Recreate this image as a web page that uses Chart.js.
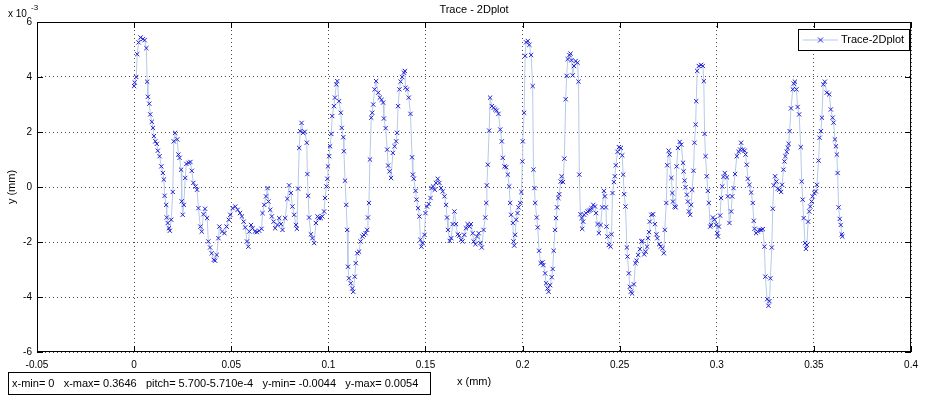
<!DOCTYPE html>
<html>
<head>
<meta charset="utf-8">
<script src="https://cdn.jsdelivr.net/npm/chart.js@4.4.1/dist/chart.umd.min.js"></script>
<style>
  html, body { margin:0; padding:0; background:#fff; }
  #wrap { position:relative; width:925px; height:398px; }
</style>
</head>
<body>
<div id="wrap"><canvas id="trace" width="925" height="398"></canvas></div>
<script>
// DATA (x in mm, y in units of 1e-3 mm)
const xMm = [
  0,0.0003,0.0011,0.0016,0.0023,0.0033,0.0045,0.0054,0.0063,0.0067,
  0.0071,0.0078,0.0083,0.0091,0.0097,0.0102,0.0109,0.0117,0.0122,0.0131,
  0.0140,0.0148,0.0153,0.0157,0.0165,0.0168,0.0173,0.0179,0.0184,0.0191,
  0.0199,0.0204,0.0211,0.0222,0.0228,0.0234,0.0242,0.0245,0.0250,0.0256,
  0.0263,0.0269,0.0280,0.0290,0.0297,0.0305,0.0316,0.0324,0.0331,0.0341,
  0.0348,0.0357,0.0365,0.0376,0.0382,0.0391,0.0399,0.0410,0.0417,0.0425,
  0.0434,0.0439,0.0453,0.0465,0.0476,0.0487,0.0495,0.0507,0.0521,0.0533,
  0.0545,0.0555,0.0564,0.0572,0.0581,0.0588,0.0593,0.0602,0.0610,0.0622,
  0.0632,0.0644,0.0656,0.0661,0.0670,0.0679,0.0687,0.0692,0.0701,0.0709,
  0.0718,0.0726,0.0738,0.0747,0.0756,0.0764,0.0778,0.0789,0.0798,0.0807,
  0.0815,0.0824,0.0833,0.0838,0.0844,0.0850,0.0855,0.0862,0.0870,0.0879,
  0.0889,0.0892,0.0896,0.0901,0.0910,0.0918,0.0927,0.0936,0.0944,0.0952,
  0.0961,0.0969,0.0978,0.0983,0.0990,0.0995,0.0998,0.1004,0.1009,0.1015,
  0.1020,0.1029,0.1034,0.1041,0.1046,0.1055,0.1064,0.1069,0.1077,0.1080,
  0.1086,0.1092,0.1097,0.1101,0.1106,0.1115,0.1123,0.1128,0.1136,0.1141,
  0.1149,0.1158,0.1166,0.1175,0.1183,0.1192,0.1200,0.1204,0.1209,0.1214,
  0.1221,0.1226,0.1231,0.1238,0.1246,0.1257,0.1265,0.1274,0.1282,0.1286,
  0.1295,0.1303,0.1308,0.1315,0.1323,0.1332,0.1341,0.1349,0.1354,0.1359,
  0.1366,0.1372,0.1380,0.1389,0.1394,0.1397,0.1406,0.1414,0.1423,0.1431,
  0.1435,0.1440,0.1449,0.1454,0.1462,0.1469,0.1474,0.1479,0.1486,0.1495,
  0.1500,0.1508,0.1517,0.1526,0.1531,0.1539,0.1548,0.1554,0.1563,0.1572,
  0.1580,0.1589,0.1598,0.1606,0.1611,0.1616,0.1625,0.1633,0.1640,0.1649,
  0.1657,0.1666,0.1674,0.1683,0.1691,0.1700,0.1708,0.1717,0.1726,0.1734,
  0.1743,0.1748,0.1757,0.1765,0.1774,0.1782,0.1790,0.1799,0.1808,0.1813,
  0.1816,0.1821,0.1828,0.1833,0.1842,0.1851,0.1859,0.1867,0.1876,0.1885,
  0.1893,0.1898,0.1907,0.1916,0.1924,0.1931,0.1936,0.1941,0.1950,0.1953,
  0.1957,0.1962,0.1967,0.1974,0.1979,0.1988,0.1994,0.1999,0.2001,0.2008,
  0.2013,0.2018,0.2027,0.2035,0.2044,0.2052,0.2056,0.2061,0.2065,0.2073,
  0.2078,0.2085,0.2093,0.2102,0.2107,0.2116,0.2121,0.2128,0.2134,0.2142,
  0.2150,0.2155,0.2160,0.2167,0.2172,0.2178,0.2184,0.2189,0.2196,0.2201,
  0.2208,0.2215,0.2222,0.2227,0.2232,0.2241,0.2247,0.2252,0.2258,0.2265,
  0.2273,0.2283,0.2288,0.2292,0.2298,0.2304,0.2307,0.2312,0.2317,0.2326,
  0.2335,0.2343,0.2350,0.2355,0.2364,0.2373,0.2378,0.2386,0.2393,0.2402,
  0.2410,0.2419,0.2424,0.2429,0.2432,0.2437,0.2444,0.2453,0.2458,0.2463,
  0.2470,0.2475,0.2480,0.2489,0.2496,0.2506,0.2513,0.2518,0.2523,0.2530,
  0.2537,0.2540,0.2547,0.2552,0.2557,0.2564,0.2573,0.2581,0.2587,0.2595,
  0.2604,0.2612,0.2617,0.2626,0.2634,0.2641,0.2646,0.2651,0.2655,0.2663,
  0.2672,0.2681,0.2689,0.2694,0.2703,0.2711,0.2720,0.2727,0.2732,0.2740,
  0.2745,0.2752,0.2757,0.2766,0.2771,0.2774,0.2783,0.2788,0.2793,0.2800,
  0.2809,0.2817,0.2826,0.2829,0.2834,0.2839,0.2846,0.2851,0.2856,0.2863,
  0.2868,0.2873,0.2880,0.2885,0.2891,0.2894,0.2899,0.2907,0.2919,0.2928,
  0.2933,0.2937,0.2942,0.2948,0.2954,0.2959,0.2966,0.2971,0.2980,0.2988,
  0.2997,0.3002,0.3006,0.3011,0.3017,0.3022,0.3028,0.3034,0.3041,0.3052,
  0.3057,0.3065,0.3074,0.3079,0.3086,0.3094,0.3103,0.3112,0.3120,0.3125,
  0.3134,0.3143,0.3148,0.3154,0.3160,0.3168,0.3177,0.3185,0.3190,0.3194,
  0.3202,0.3211,0.3219,0.3228,0.3237,0.3245,0.3250,0.3259,0.3266,0.3271,
  0.3276,0.3283,0.3288,0.3293,0.3300,0.3307,0.3314,0.3322,0.3331,0.3336,
  0.3343,0.3348,0.3353,0.3360,0.3365,0.3370,0.3375,0.3382,0.3391,0.3396,
  0.3402,0.3410,0.3416,0.3424,0.3432,0.3437,0.3442,0.3447,0.3454,0.3459,
  0.3464,0.3470,0.3476,0.3481,0.3488,0.3493,0.3502,0.3510,0.3515,0.3524,
  0.3529,0.3536,0.3541,0.3548,0.3556,0.3566,0.3579,0.3587,0.3596,0.3601,
  0.3608,0.3613,0.3618,0.3622,0.3627,0.3633,0.3638,0.3643,0.3646
];
const yE3 = [
  3.67,3.80,4.00,4.83,5.26,5.44,5.38,5.34,5.05,3.83,
  3.28,3.03,2.64,2.37,2.15,1.85,1.66,1.57,1.32,1.12,
  0.75,0.51,0.27,-0.32,-0.65,-1.11,-1.31,-1.50,-1.59,-1.19,
  -0.18,1.66,1.97,1.73,1.18,1.06,0.63,-0.52,-1.01,-0.65,
  0.33,0.84,0.88,0.91,0.59,0.15,0.02,-0.10,-0.77,-1.44,
  -1.62,-0.99,-0.79,-1.13,-1.98,-2.20,-2.41,-2.65,-2.68,-2.47,
  -1.86,-1.44,-1.62,-1.68,-1.44,-1.19,-1.01,-0.77,-0.71,-0.83,
  -0.95,-1.07,-1.26,-1.47,-1.98,-2.17,-1.62,-1.38,-1.50,-1.62,
  -1.64,-1.59,-1.52,-0.95,-0.65,-0.34,-0.04,-0.53,-0.83,-1.07,
  -1.26,-1.50,-1.38,-1.13,-1.35,-1.56,-1.13,-0.43,0.06,-0.22,
  -0.71,-1.01,-1.38,-1.52,-0.06,1.42,2.03,2.33,1.97,2.01,
  1.61,0.47,-0.32,-1.11,-1.72,-1.86,-2.04,-1.31,-1.07,-1.13,
  -1.13,-1.07,-0.89,-0.40,0.02,0.30,0.75,1.12,1.48,1.93,
  2.58,2.94,3.25,3.73,3.85,3.12,2.70,2.15,1.81,1.30,
  0.23,-0.65,-1.56,-2.90,-3.32,-3.50,-3.69,-3.81,-3.26,-2.77,
  -2.41,-2.35,-1.98,-1.80,-1.74,-1.68,-1.56,-1.11,-0.58,1.00,
  2.52,2.70,3.00,3.55,3.85,3.43,3.25,3.17,3.07,2.49,
  2.14,1.36,0.78,0.57,0.33,1.24,1.48,1.66,1.97,2.94,
  3.55,3.83,4.00,4.16,4.22,3.61,3.55,3.25,2.66,1.08,
  0.45,0.30,-0.14,-0.46,-0.77,-1.07,-1.92,-2.17,-2.04,-1.74,
  -0.95,-0.71,-0.62,-0.40,-0.04,0.02,-0.10,0.15,0.30,0.15,
  -0.04,-0.16,-0.34,-0.65,-1.11,-1.56,-1.96,-1.86,-1.35,-0.89,
  -1.35,-1.72,-1.77,-1.92,-1.98,-1.74,-1.50,-1.35,-1.44,-1.35,
  -1.68,-1.98,-2.08,-1.80,-1.68,-2.04,-2.20,-1.56,-1.11,-0.58,
  0.06,0.81,2.05,3.25,2.94,2.88,2.82,2.78,2.66,2.09,
  1.66,1.06,0.75,0.72,0.45,0.02,-0.58,-1.01,-1.31,-1.98,
  -2.13,-1.74,-1.19,-0.95,-0.74,-0.58,-0.18,0.93,1.66,2.70,
  4.77,5.26,5.31,5.17,4.80,3.67,0.63,-0.04,-0.58,-1.11,
  -1.47,-2.32,-2.77,-2.74,-2.84,-3.14,-3.50,-3.69,-3.81,-3.57,
  -3.28,-2.98,-2.32,-1.56,-1.13,-0.74,-0.40,-0.26,0.20,0.39,
  0.18,1.03,3.19,4.04,4.65,4.80,4.85,4.61,4.06,4.40,
  4.58,4.52,3.83,0.45,-0.99,-1.13,-1.52,-1.26,-1.01,-0.95,
  -0.89,-0.86,-0.83,-0.77,-0.65,-0.71,-0.95,-1.35,-1.68,-1.38,
  -0.74,-0.14,-0.34,-0.74,-1.44,-1.80,-2.11,-2.17,-1.72,-0.22,
  0.18,0.39,0.79,1.28,1.45,1.42,1.15,0.45,-0.26,-0.71,
  -2.20,-2.53,-3.14,-3.63,-3.81,-3.87,-3.54,-2.77,-2.68,-2.47,
  -2.26,-1.98,-1.96,-2.45,-2.35,-2.17,-1.86,-1.64,-1.26,-1.01,
  -0.99,-1.35,-1.72,-1.86,-2.08,-2.17,-2.23,-2.41,-1.56,-0.58,
  0.79,1.32,1.18,0.33,-0.22,-0.53,-0.71,-0.74,0.75,1.42,
  1.64,1.54,0.88,0.57,0.23,-0.01,-0.28,-0.53,-0.89,-1.01,
  -0.65,-0.10,0.59,1.61,2.27,3.12,4.22,4.40,4.44,4.40,
  3.85,1.93,1.12,0.39,-0.14,-0.58,-1.44,-1.38,-1.11,-1.19,
  -1.38,-1.68,-1.80,-1.44,-1.04,-0.40,0.02,0.37,0.51,0.35,
  -0.34,-1.31,-0.89,-0.34,-0.04,0.47,1.12,1.28,1.36,1.61,
  1.36,1.32,1.18,0.81,0.30,0.08,-0.20,-0.58,-1.23,-1.52,
  -1.68,-1.62,-1.56,-1.56,-1.53,-2.17,-3.26,-4.08,-4.32,-4.15,
  -3.32,-2.20,-0.79,0.06,0.39,0.20,-0.06,-0.10,-0.18,0.08,
  0.63,0.93,1.12,1.28,1.42,1.57,2.03,2.86,3.55,3.76,
  3.83,3.55,2.91,2.64,1.45,0.20,-0.46,-1.13,-2.04,-2.25,
  -2.11,-1.26,-0.89,-0.71,-0.53,-0.34,-0.22,-0.16,0.08,0.96,
  1.79,2.03,2.52,3.73,3.83,3.43,3.37,2.82,2.52,2.34,
  1.73,1.48,1.18,0.51,-0.74,-1.16,-1.38,-1.72,-1.80
];
const xTicks = [-0.05, 0, 0.05, 0.1, 0.15, 0.2, 0.25, 0.3, 0.35, 0.4];
const xTickLabels = ['-0.05','0','0.05','0.1','0.15','0.2','0.25','0.3','0.35','0.4'];
const yTicks = [-6, -4, -2, 0, 2, 4, 6];
const yTickLabels = ['-6','-4','-2','0','2','4','6'];
const seriesName = 'Trace-2Dplot';
const statsText = 'x-min= 0   x-max= 0.3646   pitch= 5.700-5.710e-4   y-min= -0.0044   y-max= 0.0054';

if (xMm.length !== yE3.length) throw new Error('length mismatch ' + xMm.length + ' ' + yE3.length);
const points = xMm.map((x, k) => ({ x: x, y: yE3[k] }));

const FONT = '"Liberation Sans", Arial, sans-serif';
const LINE_COL = '#b7c9e8';
const MARK_COL = '#1f1fd6';

// box, inside ticks, labels, legend and stats box (MATLAB look)
const matlabFrame = {
  id: 'matlabFrame',
  afterDraw(chart) {
    const { ctx, chartArea: a, scales: { x, y } } = chart;
    ctx.save();
    ctx.strokeStyle = '#000';
    ctx.lineWidth = 1;
    ctx.strokeRect(a.left + 0.5, a.top + 0.5, a.right - a.left - 1, a.bottom - a.top - 1);
    ctx.beginPath();
    xTicks.forEach(v => {
      const px = Math.round(x.getPixelForValue(v)) + 0.5;
      ctx.moveTo(px, a.bottom); ctx.lineTo(px, a.bottom - 6);
      ctx.moveTo(px, a.top); ctx.lineTo(px, a.top + 6);
    });
    yTicks.forEach(v => {
      const py = Math.round(y.getPixelForValue(v)) + 0.5;
      ctx.moveTo(a.left, py); ctx.lineTo(a.left + 6, py);
      ctx.moveTo(a.right, py); ctx.lineTo(a.right - 6, py);
    });
    ctx.stroke();

    ctx.fillStyle = '#000';
    ctx.font = '11px ' + FONT;
    ctx.textAlign = 'center';
    ctx.textBaseline = 'middle';
    const cx = (a.left + a.right) / 2;
    ctx.fillText('Trace - 2Dplot', cx, 10);
    ctx.fillText('x (mm)', cx, 382);

    // exponent
    ctx.textAlign = 'left';
    ctx.font = '10px ' + FONT;
    ctx.fillText('x 10', 8, 14);
    ctx.font = '8px ' + FONT;
    ctx.fillText('-3', 31, 8);

    // y label
    ctx.save();
    ctx.translate(12, (a.top + a.bottom) / 2);
    ctx.rotate(-Math.PI / 2);
    ctx.textAlign = 'center';
    ctx.font = '11px ' + FONT;
    ctx.fillText('y (mm)', 0, 0);
    ctx.restore();

    // legend
    const lx = 798, ly = 29, lw = 111, lh = 21;
    ctx.fillStyle = '#fff';
    ctx.fillRect(lx, ly, lw, lh);
    ctx.strokeStyle = '#000';
    ctx.strokeRect(lx + 0.5, ly + 0.5, lw, lh);
    const my = ly + lh / 2 + 0.5;
    ctx.strokeStyle = LINE_COL;
    ctx.beginPath(); ctx.moveTo(lx + 5, my); ctx.lineTo(lx + 40, my); ctx.stroke();
    ctx.strokeStyle = MARK_COL;
    ctx.beginPath();
    ctx.moveTo(lx + 20, my - 2.5); ctx.lineTo(lx + 25, my + 2.5);
    ctx.moveTo(lx + 25, my - 2.5); ctx.lineTo(lx + 20, my + 2.5);
    ctx.stroke();
    ctx.fillStyle = '#000';
    ctx.font = '11px ' + FONT;
    ctx.textAlign = 'left';
    ctx.fillText(seriesName, lx + 43, my);

    // stats box
    ctx.fillStyle = '#fff';
    ctx.fillRect(8, 372, 422, 22);
    ctx.strokeStyle = '#000';
    ctx.strokeRect(8.5, 372.5, 422, 22);
    ctx.fillStyle = '#000';
    ctx.font = '11px ' + FONT;
    ctx.fillText(statsText, 12, 384);
    ctx.restore();
  }
};

new Chart(document.getElementById('trace'), {
  type: 'scatter',
  data: {
    datasets: [{
      label: seriesName,
      data: points,
      showLine: true,
      borderColor: LINE_COL,
      borderWidth: 1,
      tension: 0,
      pointStyle: 'crossRot',
      pointRadius: 3,
      pointBorderColor: MARK_COL,
      pointBorderWidth: 1,
      pointBackgroundColor: MARK_COL
    }]
  },
  options: {
    responsive: false,
    animation: false,
    devicePixelRatio: 1,
    layout: { padding: { left: 0, right: 11, top: 22, bottom: 0 } },
    plugins: { legend: { display: false }, tooltip: { enabled: false }, title: { display: false } },
    scales: {
      x: {
        type: 'linear', min: -0.05, max: 0.4,
        afterBuildTicks: s => { s.ticks = xTicks.map(v => ({ value: v })); },
        afterFit: s => { s.height = 46; },
        ticks: {
          autoSkip: false, maxRotation: 0, padding: 7, color: '#000',
          font: { family: FONT, size: 10 },
          callback: (v, i) => xTickLabels[i]
        },
        grid: { color: 'rgba(0,0,0,0.7)', lineWidth: 1, drawTicks: false },
        border: { display: false, dash: [1, 3] }
      },
      y: {
        type: 'linear', min: -6, max: 6,
        afterBuildTicks: s => { s.ticks = yTicks.map(v => ({ value: v })); },
        afterFit: s => { s.width = 37; },
        ticks: {
          padding: 5, color: '#000',
          font: { family: FONT, size: 10 },
          callback: (v, i) => yTickLabels[i]
        },
        grid: { color: 'rgba(0,0,0,0.7)', lineWidth: 1, drawTicks: false },
        border: { display: false, dash: [1, 3] }
      }
    }
  },
  plugins: [matlabFrame]
});
</script>
</body>
</html>
